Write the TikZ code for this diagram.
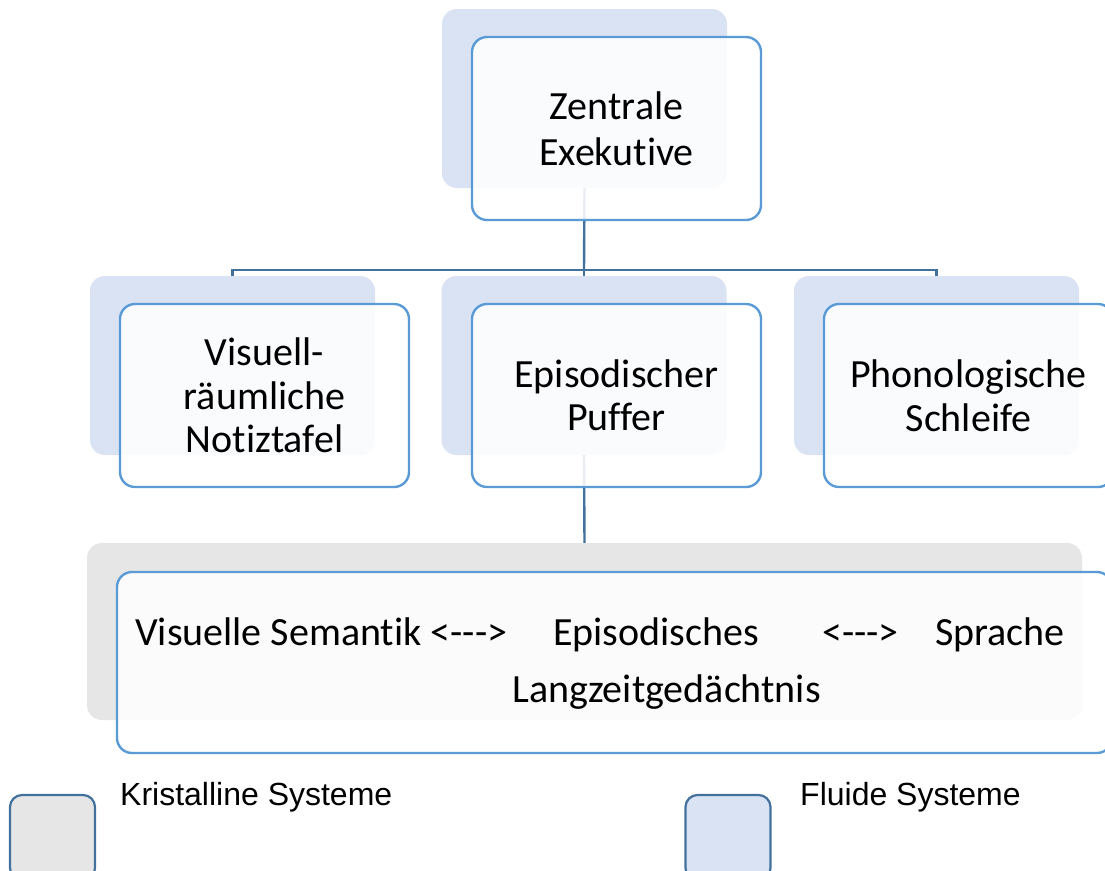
\documentclass[tikz,border=0pt]{standalone}
\usepackage{fontspec}
\setmainfont{Carlito}[Ligatures={TeXOff,CommonOff}]
\newfontfamily\legendfont{Liberation Sans}
\definecolor{fluid}{HTML}{DAE3F3}
\definecolor{crystal}{HTML}{E6E6E6}
\definecolor{frontedge}{HTML}{5B9BD5}
\definecolor{linkcol}{HTML}{41719C}
\tikzset{
  fluidback/.style={rectangle, rounded corners=15pt, fill=fluid, draw=none, minimum width=285pt, minimum height=179pt, inner sep=0pt},
  crystback/.style={rectangle, rounded corners=15pt, fill=crystal, draw=none, minimum width=995pt, minimum height=177pt, inner sep=0pt},
  frontbox/.style={rectangle, rounded corners=15pt, draw=frontedge, line width=2.4pt, fill=white, fill opacity=0.88, text opacity=1, minimum width=289pt, minimum height=183pt, inner sep=0pt, align=center, font=\fontsize{40}{43.5}\selectfont},
  conn/.style={draw=linkcol, line width=2.4pt},
  bigtext/.style={inner sep=0pt, anchor=base west, font=\fontsize{40}{44}\selectfont},
  legbox/.style={rectangle, rounded corners=12pt, draw=linkcol, line width=2.2pt, minimum width=85pt, minimum height=85pt, inner sep=0pt},
  legtext/.style={inner sep=0pt, anchor=west, font=\legendfont\fontsize{32}{36}\selectfont}
}
\begin{document}
\begin{tikzpicture}[x=1pt,y=-1pt]
\clip (0,0) rectangle (1105,870);
\fill[white] (0,0) rectangle (1105,870);
% back shapes
\node[fluidback] (zeb) at (584.5,98.5) {};
\node[fluidback] (vsb) at (232.5,365.5) {};
\node[fluidback] (epb) at (584,365.5) {};
\node[fluidback] (phb) at (936.5,365.5) {};
\node[crystback] (ltb) at (584.5,631.5) {};
% connectors
\coordinate (hub) at (584,270);
\draw[conn] (zeb.south) -- (hub);
\draw[conn] (hub) -| (vsb.north);
\draw[conn] (hub) -| (phb.north);
\draw[conn] (hub) -- (epb.north);
\draw[conn] (epb.south) -- (ltb.north);
% front boxes
\node[frontbox, font=\fontsize{40}{46}\selectfont] (ze) at (616.5,128.5) {Zentrale\\Exekutive};
\node[frontbox] (vs) at (264.5,395.5) {Visuell-\\räumliche\\Notiztafel};
\node[frontbox] (ep) at (616.5,395.5) {Episodischer\\Puffer};
\node[frontbox] (ph) at (968.5,395.5) {Phonologische\\Schleife};
\node[frontbox, minimum width=995pt, minimum height=181pt] (lt) at (614.5,662.5) {};
% bottom text
\node[bigtext] (t1) at (135,645) {Visuelle Semantik <--->};
\node[bigtext] (t2) at (553,645) {Episodisches};
\node[bigtext] (t3) at (822,645) {<--->};
\node[bigtext] (t4) at (935,645) {Sprache};
\node[bigtext] (t5) at (512,702) {Langzeitgedächtnis};
% legend
\node[legbox, fill=crystal] (lg1) at (52.5,837.5) {};
\node[legtext] (lt1) at (120,797) {Kristalline Systeme};
\node[legbox, fill=fluid] (lg2) at (728,837.5) {};
\node[legtext] (lt2) at (800,797) {Fluide Systeme};
\end{tikzpicture}
\end{document}
